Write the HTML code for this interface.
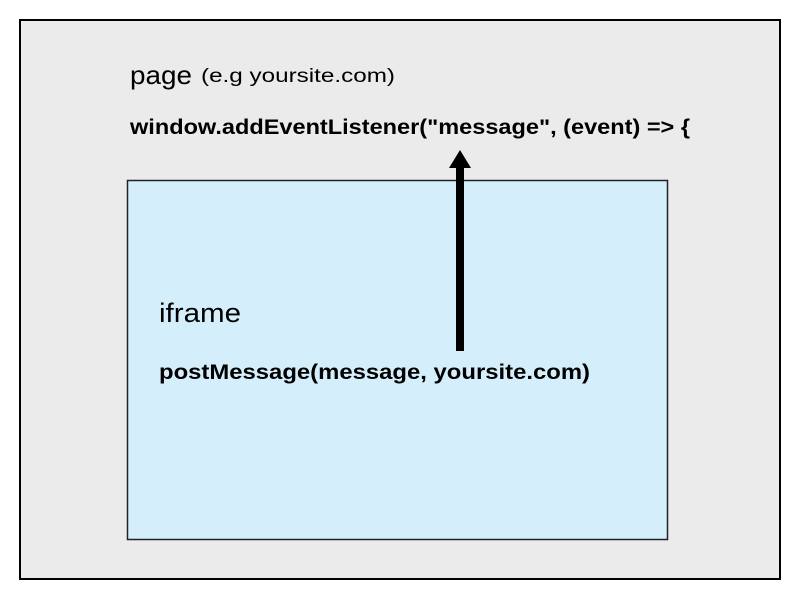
<!DOCTYPE html>
<html><head><style>
body{margin:0;width:800px;height:600px;background:#fff;font-family:"Liberation Sans",Arial,sans-serif;}
</style></head><body>
<svg width="800" height="600" xmlns="http://www.w3.org/2000/svg" style="position:absolute;left:0;top:0">
<rect x="20" y="20" width="760" height="559" fill="#ebebeb" stroke="#000" stroke-width="2"/>
<rect x="127.5" y="180.5" width="540" height="359" fill="#d4effb" stroke="#222" stroke-width="1.5"/>
<text x="130" y="84" font-family="Liberation Sans, Arial, sans-serif" font-size="26" fill="#000" textLength="62" lengthAdjust="spacingAndGlyphs">page</text>
<text x="201" y="82" font-family="Liberation Sans, Arial, sans-serif" font-size="19" fill="#000" textLength="194" lengthAdjust="spacingAndGlyphs">(e.g yoursite.com)</text>
<text x="130" y="134" font-family="Liberation Sans, Arial, sans-serif" font-size="21" font-weight="bold" fill="#000" textLength="560" lengthAdjust="spacingAndGlyphs">window.addEventListener("message", (event) =&gt; {</text>
<text x="159" y="322" font-family="Liberation Sans, Arial, sans-serif" font-size="27" fill="#000" textLength="82" lengthAdjust="spacingAndGlyphs">iframe</text>
<text x="159" y="379" font-family="Liberation Sans, Arial, sans-serif" font-size="21" font-weight="bold" fill="#000" textLength="431" lengthAdjust="spacingAndGlyphs">postMessage(message, yoursite.com)</text>
<rect x="456" y="166" width="8" height="185" fill="#000"/>
<polygon points="460,150 449,168 471,168" fill="#000"/>
</svg>
</body></html>
